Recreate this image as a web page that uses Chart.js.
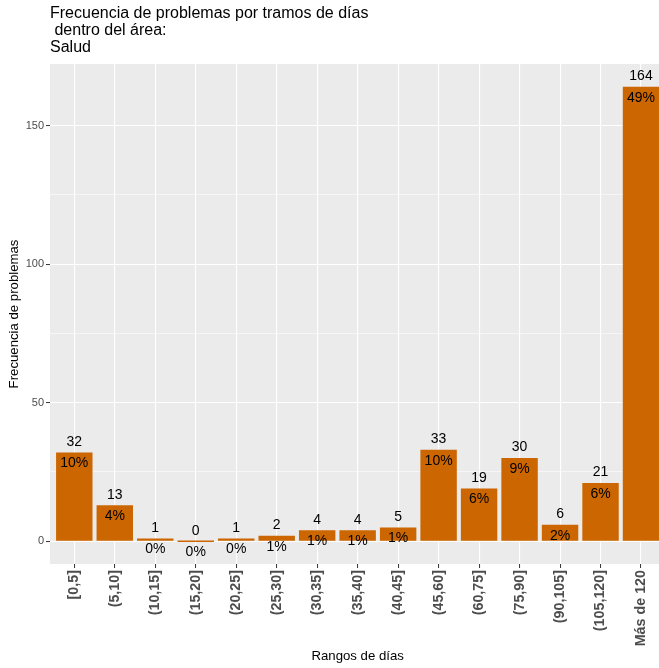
<!DOCTYPE html>
<html>
<head>
<meta charset="utf-8">
<script src="https://cdn.jsdelivr.net/npm/chart.js@4/dist/chart.umd.min.js"></script>
<style>
  html, body { margin: 0; padding: 0; background: #fff; overflow: hidden; }
  #grafico { display: block; }
</style>
</head>
<body>
<canvas id="grafico" width="666" height="668"></canvas>
<script>
// --- datos ---
const categorias = ['[0,5]', '(5,10]', '(10,15]', '(15,20]', '(20,25]', '(25,30]', '(30,35]',
  '(35,40]', '(40,45]', '(45,60]', '(60,75]', '(75,90]', '(90,105]', '(105,120]', 'Más de 120'];
const frecuencias = [32, 13, 1, 0, 1, 2, 4, 4, 5, 33, 19, 30, 6, 21, 164];
const porcentajes = ['10%', '4%', '0%', '0%', '0%', '1%', '1%', '1%', '1%', '10%', '6%', '9%', '2%', '6%', '49%'];
const ticksY = [0, 50, 100, 150];
const ticksYMenores = [25, 75, 125];
const titulo = ['Frecuencia de problemas por tramos de días', ' dentro del área:', 'Salud'];

const FUENTE = '"Liberation Sans", Arial, Helvetica, sans-serif';
const NARANJA = '#CC6600';

// fondo gris del panel (estilo ggplot)
const fondoPanel = {
  id: 'fondoPanel',
  beforeDraw(chart) {
    const { ctx, chartArea: a } = chart;
    ctx.save();
    ctx.fillStyle = '#fff';
    ctx.fillRect(0, 0, chart.width, chart.height);
    ctx.fillStyle = '#EBEBEB';
    ctx.fillRect(a.left, a.top, a.right - a.left, a.bottom - a.top);
    ctx.restore();
  }
};

// título en tres líneas, alineado con el panel
const tituloPlugin = {
  id: 'tituloPlugin',
  afterDraw(chart) {
    const ctx = chart.ctx;
    ctx.save();
    ctx.fillStyle = '#000';
    ctx.font = '16px ' + FUENTE;
    ctx.textAlign = 'left';
    ctx.textBaseline = 'middle';
    titulo.forEach((linea, i) => ctx.fillText(linea, chart.chartArea.left, 14 + i * 16.8));
    ctx.restore();
  }
};

// etiquetas: cantidad encima y porcentaje debajo del borde superior
const etiquetas = {
  id: 'etiquetas',
  afterDatasetsDraw(chart) {
    const ctx = chart.ctx;
    const meta = chart.getDatasetMeta(0);
    const y = chart.scales.y;
    ctx.save();
    ctx.fillStyle = '#000';
    ctx.font = '14px ' + FUENTE;
    ctx.textAlign = 'center';
    ctx.textBaseline = 'middle';
    meta.data.forEach((barra, i) => {
      const tope = y.getPixelForValue(frecuencias[i]);
      ctx.fillText(String(frecuencias[i]), barra.x, tope - 10.5);
      ctx.fillText(porcentajes[i], barra.x, tope + 11);
    });
    ctx.restore();
  }
};

const todosTicksY = ticksY.concat(ticksYMenores).sort((a, b) => a - b);
const esMayor = v => ticksY.includes(v);

new Chart(document.getElementById('grafico'), {
  type: 'bar',
  data: {
    datasets: [{
      data: frecuencias.map((v, i) => ({ x: i, y: v })),
      backgroundColor: NARANJA,
      borderWidth: 0,
      barPercentage: 0.9,
      categoryPercentage: 1,
      minBarLength: 1.5
    }]
  },
  options: {
    responsive: false,
    animation: false,
    devicePixelRatio: 1,
    layout: { padding: { top: 64, left: 0, right: 0.7, bottom: 0 } },
    plugins: {
      legend: { display: false },
      tooltip: { enabled: false }
    },
    scales: {
      x: {
        type: 'linear',
        offset: false,
        min: -0.6,
        max: categorias.length - 1 + 0.6,
        afterBuildTicks: s => {
          s.min = -0.6;
          s.max = categorias.length - 1 + 0.6;
          s.ticks = categorias.map((c, i) => ({ value: i }));
        },
        afterFit: s => { s.height = 104; },
        border: { display: false },
        grid: {
          offset: false,
          color: '#fff',
          lineWidth: 1.1,
          drawTicks: true,
          tickLength: 4,
          tickColor: '#333',
          tickWidth: 1
        },
        ticks: {
          autoSkip: false,
          minRotation: 90,
          maxRotation: 90,
          padding: 2,
          color: '#4D4D4D',
          font: { family: FUENTE, size: 14.3, weight: 'bold' },
          callback: v => categorias[v]
        },
        title: {
          display: true,
          text: 'Rangos de días',
          color: '#000',
          font: { family: FUENTE, size: 13.2 },
          padding: { top: 0, bottom: 3.5 }
        }
      },
      y: {
        min: -8.2,
        max: 172.2,
        afterBuildTicks: s => {
          s.min = -8.2;
          s.max = 172.2;
          s.ticks = todosTicksY.map(v => ({ value: v }));
        },
        afterFit: s => { s.width = 50; },
        border: { display: false },
        grid: {
          color: '#fff',
          lineWidth: ctx => esMayor(ctx.tick.value) ? 1.1 : 0.55,
          drawTicks: true,
          tickLength: 4,
          tickColor: ctx => esMayor(ctx.tick.value) ? '#333' : 'rgba(0,0,0,0)',
          tickWidth: 1
        },
        ticks: {
          padding: 2,
          color: '#4D4D4D',
          font: { family: FUENTE, size: 11 },
          callback: v => esMayor(v) ? String(v) : ''
        },
        title: {
          display: true,
          text: 'Frecuencia de problemas',
          color: '#000',
          font: { family: FUENTE, size: 13.2 },
          padding: { top: 6.5, bottom: 0 }
        }
      }
    }
  },
  plugins: [fondoPanel, etiquetas, tituloPlugin]
});
</script>
</body>
</html>
